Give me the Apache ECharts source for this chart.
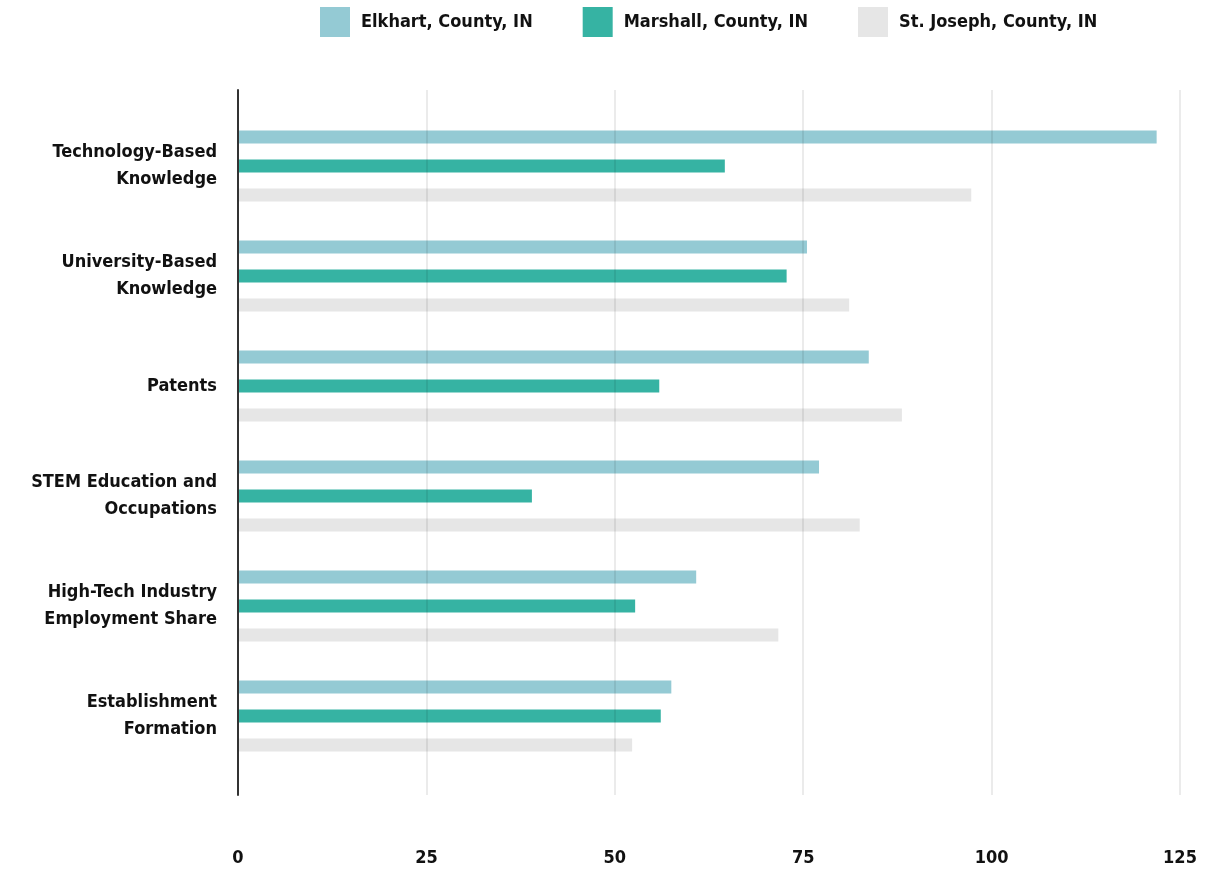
<!DOCTYPE html>
<html><head><meta charset="utf-8">
<script src="https://cdn.jsdelivr.net/npm/echarts@6/dist/echarts.min.js"></script>
<style>html,body{margin:0;padding:0;background:#fff}#c{width:1224px;height:871px}</style>
</head><body><div id="c"></div>
<script>
const categories = ["Technology-Based\nKnowledge","University-Based\nKnowledge","Patents","STEM Education and\nOccupations","High-Tech Industry\nEmployment Share","Establishment\nFormation"];
const seriesNames = ["Elkhart, County, IN","Marshall, County, IN","St. Joseph, County, IN"];
const elkhart = [121.9, 75.5, 83.7, 77.1, 60.8, 57.5];
const marshall = [64.6, 72.8, 55.9, 39.0, 52.7, 56.1];
const stJoseph = [97.3, 81.1, 88.1, 82.5, 71.7, 52.3];
const xTicks = [0, 25, 50, 75, 100, 125];
const colors = ["#94cad4", "#36b3a3", "#e6e6e6"];
const FONT = "'DejaVu Sans Condensed', 'DejaVu Sans', sans-serif";

const chart = echarts.init(document.getElementById('c'));
const mk = (name, data, i) => ({
  name, type: 'bar', data, xAxisIndex: 1, yAxisIndex: 1,
  barWidth: 13, barGap: '123%', itemStyle: {color: colors[i]}, z: 2
});
chart.setOption({
  animation: false,
  textStyle: {fontFamily: FONT},
  color: colors,
  legend: {
    top: 2, left: 315, itemWidth: 30, itemHeight: 30, itemGap: 50,
    icon: 'rect',
    textStyle: {fontFamily: FONT, fontWeight: 'bold', fontSize: 18, color: '#111', padding: [0,0,0,6]},
    data: seriesNames
  },
  grid: [
    {left: 238, right: 44, top: 90, bottom: 76, containLabel: false},
    {left: 238, right: 44, top: 111, bottom: 100, containLabel: false}
  ],
  xAxis: [
    {gridIndex: 0, type: 'value', min: xTicks[0], max: xTicks[xTicks.length-1], interval: 25, z: 5,
     axisLine: {show: false}, axisTick: {show: false},
     splitLine: {show: true, lineStyle: {color: 'rgba(0,0,0,0.08)', width: 2}},
     axisLabel: {margin: 54, fontFamily: FONT, fontWeight: 'bold', fontSize: 18, color: '#111'}},
    {gridIndex: 1, type: 'value', min: 0, max: 125, show: false}
  ],
  yAxis: [
    {gridIndex: 0, type: 'value', min: 0, max: 1, z: 6,
     axisLine: {show: true, lineStyle: {color: '#333', width: 2}},
     axisTick: {show: false}, axisLabel: {show: false}, splitLine: {show: false}},
    {gridIndex: 1, type: 'category', data: categories, inverse: true,
     axisLine: {show: false}, axisTick: {show: false}, splitLine: {show: false},
     axisLabel: {margin: 21, fontFamily: FONT, fontWeight: 'bold', fontSize: 18, color: '#111', lineHeight: 27, align: 'right'}}
  ],
  series: [mk(seriesNames[0], elkhart, 0), mk(seriesNames[1], marshall, 1), mk(seriesNames[2], stJoseph, 2)]
});
</script></body></html>
